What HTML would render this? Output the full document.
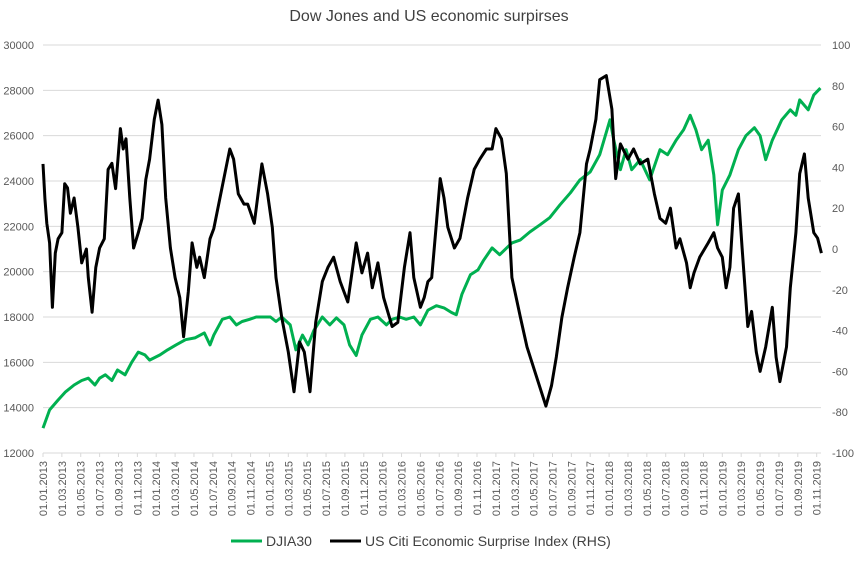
<!DOCTYPE html>
<html><head><meta charset="utf-8"><style>
body{margin:0;background:#fff;}
svg{display:block;font-family:"Liberation Sans",sans-serif;}
</style></head><body>
<svg id="chart" width="858" height="561" viewBox="0 0 858 561">
<text x="429" y="21" text-anchor="middle" font-size="16" fill="#404040">Dow Jones and US economic surpirses</text>
<g id="grid"></g><g id="axes"></g><g id="series"></g>
<g>
<line x1="231" y1="541" x2="262" y2="541" stroke="#00b050" stroke-width="3"/>
<text x="266" y="546" font-size="14" fill="#404040">DJIA30</text>
<line x1="330" y1="541" x2="361" y2="541" stroke="#000" stroke-width="3"/>
<text x="365" y="546" font-size="14" fill="#404040">US Citi Economic Surprise Index (RHS)</text>
</g>
</svg>
<script>
const leftTicks=[12000,14000,16000,18000,20000,22000,24000,26000,28000,30000];
const rightTicks=[-100,-80,-60,-40,-20,0,20,40,60,80,100];
const xLabels=[];
for(let y=2013;y<=2019;y++){for(const mm of ["01","03","05","07","09","11"]) xLabels.push("01."+mm+"."+y);}
const djiaMonths=[0,0.7,1.6,2.4,3.3,4.1,4.8,5.5,6.0,6.6,7.3,7.9,8.7,9.4,10.1,10.8,11.3,12.4,13.2,14.1,15.1,16.1,17.1,17.7,18.1,19.0,19.8,20.5,21.1,21.9,22.6,23.2,24.1,24.7,25.3,26.2,26.8,27.5,28.1,28.7,29.6,30.4,31.1,31.9,32.5,33.2,33.8,34.7,35.5,36.4,37.0,37.8,38.5,39.3,40.0,40.8,41.7,42.5,43.3,43.8,44.4,45.3,46.1,46.7,47.6,48.4,49.7,50.6,51.6,52.7,53.7,54.8,55.9,56.9,58.0,59.0,60.1,60.5,61.2,61.8,62.4,63.3,64.3,65.4,66.2,67.1,67.9,68.6,69.2,69.8,70.5,71.1,71.5,72.0,72.8,73.7,74.5,75.4,76.0,76.6,77.3,78.3,79.2,79.8,80.2,81.1,81.7,82.4];
const djiaValues=[13100,13900,14340,14700,15000,15200,15300,15000,15300,15450,15200,15660,15450,16000,16450,16330,16100,16330,16550,16770,17000,17080,17300,16770,17200,17900,18000,17650,17800,17900,18000,18000,18000,17800,18000,17650,16550,17200,16770,17400,18000,17650,17960,17650,16770,16300,17200,17900,18000,17650,17900,18000,17900,18000,17650,18300,18500,18400,18200,18100,19000,19860,20080,20500,21050,20750,21270,21400,21750,22070,22380,22950,23480,24050,24400,25160,26700,25800,24500,25380,24500,24940,24050,25380,25160,25800,26260,26900,26260,25380,25800,24270,22070,23600,24270,25380,26000,26350,26000,24940,25800,26700,27140,26900,27580,27140,27800,28100];
const cesiMonths=[0,0.2,0.4,0.7,1.0,1.3,1.6,2.0,2.3,2.6,2.9,3.3,3.7,4.1,4.6,4.8,5.2,5.6,6.0,6.5,6.9,7.3,7.7,8.2,8.5,8.8,9.2,9.6,10.1,10.5,10.9,11.3,11.8,12.2,12.6,13.0,13.5,14.0,14.5,14.9,15.4,15.8,16.3,16.6,17.1,17.7,18.1,19.8,20.2,20.7,21.3,21.7,22.4,23.2,23.8,24.3,24.7,25.3,26.0,26.6,27.2,27.7,28.3,28.9,29.6,30.2,30.8,31.5,32.3,33.2,33.8,34.4,34.9,35.5,36.1,37.0,37.6,38.3,38.9,39.3,40.0,40.4,40.8,41.2,41.7,42.1,42.5,42.9,43.6,44.2,45.0,45.7,46.3,47.0,47.6,48.0,48.6,49.1,49.7,50.6,51.3,53.3,53.9,54.4,55.0,55.6,56.3,56.9,57.6,58.0,58.6,59.0,59.7,60.3,60.7,61.2,62.0,62.6,63.3,64.1,64.8,65.4,66.0,66.5,67.1,67.5,68.2,68.6,69.0,69.6,70.5,71.1,71.5,72.0,72.4,72.8,73.2,73.7,74.1,74.7,75.1,75.6,76.0,76.6,77.3,77.7,78.1,78.8,79.2,79.8,80.2,80.7,81.1,81.7,82.1,82.5];
const cesiValues=[41.7,24.8,12.6,3,-28.6,-2,5,8,32,30,17.5,25,10.7,-6.8,0,-14,-31,-9,0.5,5,39,42,29.6,59,49,54,25,0.5,8,15,34,44,63.6,73,61,25,0.5,-14,-23.8,-43,-21,3,-9,-4,-14,5,10,49,44,27,22,22,12.6,41.7,27,10.7,-14,-33.5,-50.5,-70,-45.6,-50.5,-70,-36,-16,-9,-4,-16,-26,3,-11.7,-2,-19,-6.8,-23.8,-38,-36,-9,8,-14,-28.6,-23.8,-16,-14,12.6,34.5,25,10.7,0.5,5.3,25,39,44,49,49,59,54,37,-14,-33.5,-48,-77,-67,-53,-33.5,-19,-4,8,41.7,49,63.6,83,85,68.5,34.5,51.5,44,49,41.7,44,27,15,12.6,20,0.5,5,-6.8,-19,-11.7,-4,3,8,0.5,-4,-19,-9,20,27,0.5,-38,-30.6,-50.5,-60,-48,-28.6,-53,-65,-48,-19,8,36.9,46.6,25,8,5.3,-2];

const NS="http://www.w3.org/2000/svg";
const X0=43,XS=9.435,Y0=453,Y1=45,XR=821;
const xPos=m=>X0+m*XS;
const yL=v=>Y0-(v-12000)/18000*(Y0-Y1);
const yR=v=>Y0-(v+100)/200*(Y0-Y1);
function mk(tag,attrs,parent){const e=document.createElementNS(NS,tag);for(const k in attrs)e.setAttribute(k,attrs[k]);parent.appendChild(e);return e;}
const grid=document.getElementById('grid'),axes=document.getElementById('axes'),series=document.getElementById('series');
leftTicks.forEach(v=>{
  const l=mk('line',{x1:X0,x2:XR,y1:yL(v),y2:yL(v),stroke:'#d9d9d9','stroke-width':1},grid);
  
  
  const t=mk('text',{x:34,y:yL(v)+4,'text-anchor':'end','font-size':11,fill:'#595959'},axes);
  t.textContent=v;
  
  
});
rightTicks.forEach(v=>{
  const t=mk('text',{x:832,y:yR(v)+4,'text-anchor':'start','font-size':11,fill:'#595959'},axes);
  t.textContent=v;
  
  
});
xLabels.forEach((s,i)=>{
  const x=xPos(i*2);
  const tk=mk('line',{x1:x,x2:x,y1:Y0,y2:Y0+4,stroke:'#d9d9d9'},axes);
  
  
  const t=mk('text',{x:0,y:0,'text-anchor':'end','font-size':11,fill:'#595959',transform:`translate(${x+4},${Y0+8}) rotate(-90)`},axes);
  t.textContent=s;
  
  
});
function line(ms,vs,yf,color,name){
  const d=ms.map((m,i)=>(i?'L':'M')+xPos(m).toFixed(1)+','+yf(vs[i]).toFixed(1)).join('');
  const p=mk('path',{d:d,fill:'none',stroke:color,'stroke-width':3,'stroke-linejoin':'round'},series);
  
  
}
line(djiaMonths,djiaValues,yL,'#00b050','djia-line');
line(cesiMonths,cesiValues,yR,'#000000','cesi-line');
</script>
</body></html>
